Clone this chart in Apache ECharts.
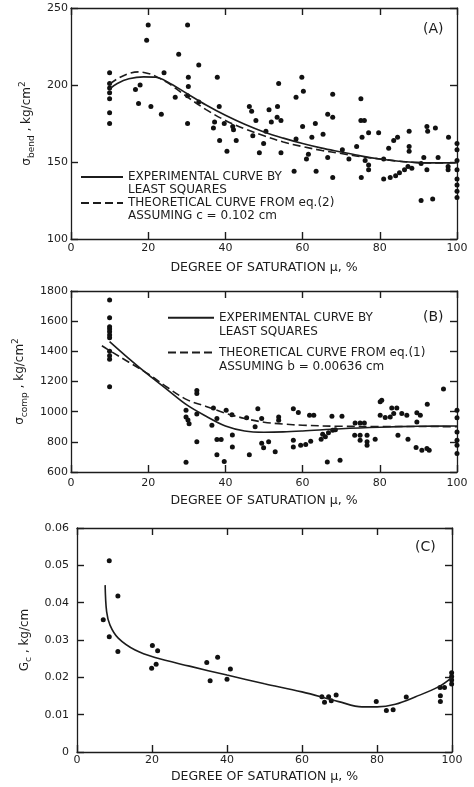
<!DOCTYPE html>
<html><head><meta charset="utf-8">
<script src="https://cdn.jsdelivr.net/npm/echarts@6/dist/echarts.min.js"></script>
<style>html,body{margin:0;padding:0;background:#fff}#c{width:474px;height:787px}</style>
</head><body><div id="c"></div>
<script>
// ---------- DATA ----------
const satRange = [0, 100, 20];          // degree of saturation axis: min, max, interval
const bendRange = [100, 250, 50];
const compRange = [600, 1800, 200];
const gcRange = [0, 0.06, 0.01];

const xAxisTitle = 'DEGREE OF SATURATION \u03bc, %';
const panelTags = ['(A)', '(B)', '(C)'];
const legendA = ['EXPERIMENTAL CURVE BY\nLEAST SQUARES', 'THEORETICAL CURVE FROM eq.(2)\nASSUMING c = 0.102 cm'];
const legendB = ['EXPERIMENTAL CURVE BY\nLEAST SQUARES', 'THEORETICAL CURVE FROM eq.(1)\nASSUMING b = 0.00636 cm'];

// Panel A: bending strength (kg/cm2)
const bendPoints = [
  [10,208],[10,201],[10,198],[10,195],[10,191],[10,182],[10,175],
  [16.7,197],[17.9,200],[17.5,188],[20,239],[19.6,229],[20.7,186],[23.4,181],[24.1,208],
  [27,192],[27.9,220],[30.2,239],[30.4,205],[30.4,199],[30.2,193],[30.2,175],[33.1,213],[33.1,189],
  [37.9,205],[37.2,176],[36.9,172],[38.4,186],[38.5,164],[39.7,175],[40.4,157],[41.9,173],[42.1,171],[42.8,164],
  [46.2,186],[46.8,183],[47.9,177],[47.1,167],[49.9,162],[48.8,156],[51.3,184],[51.9,176],[50.5,170],
  [53.8,201],[53.5,186],[53.4,179],[54.4,177],[54.4,156],[57.8,144],[58.3,192],[58.3,165],
  [59.8,205],[60.2,196],[60,173],[61,152],[61.5,155],[62.4,166],[63.3,175],[63.5,144],[65.3,168],
  [66.5,181],[67.8,179],[67.8,194],[66.5,153],[67.8,140],[70.3,158],[72,152],[74,160],
  [75.1,191],[75.1,177],[76,177],[75.4,166],[75.2,140],[76.2,151],[77.1,148],[77.1,145],[77.1,169],[79.7,169],
  [81,139],[81,152],[82.3,159],[82.7,140],[83.6,164],[84.6,166],[84.1,141],[85.1,143],[86.4,145],[87.3,147],[87.6,157],[87.6,160],[87.6,170],[88.3,146],
  [90.7,149],[90.7,125],[91.4,153],[92.2,173],[92.4,170],[92.2,145],[93.7,126],[94.4,172],[95.1,153],[97.8,166],[97.7,147],[97.7,145],
  [100,162],[100,158],[100,151],[100,145],[100,139],[100,135],[100,131],[100,127]
];
const bendExpCurve = [
  [10,197.5],[12,201],[15,204],[18.8,205.3],[22,205],[25,202],[30,194.5],[35,187],[40,180.3],[45,174.5],
  [50,169.5],[55,165.5],[60,162],[65,159],[70,156.5],[75,154],[80,152],[85,150.5],[90,149.6],[95,149.4],[100,149.5]
];
const bendTheoryCurve = [
  [10,200.5],[12,204],[15,207.5],[17.5,208.5],[20,207.5],[22,205.6],[25,201.5],[30,192.5],[35,184],[40,177],
  [45,171.5],[50,167],[55,163],[60,160],[65,157.5],[70,155.5],[75,153.5],[80,152],[85,150.5],[90,149.6],[95,149.4],[100,149.5]
];

// Panel B: compressive strength (kg/cm2)
const compPoints = [
  [10,1740],[10,1623],[10,1563],[10,1548],[10,1530],[10,1508],[10,1490],[10,1400],[10,1370],[10,1348],[10,1165],
  [29.8,1010],[29.8,965],[30.3,945],[30.6,920],[29.8,665],[32.6,1140],[32.6,1120],[32.6,985],[32.6,800],
  [36.9,1025],[36.5,910],[37.8,955],[37.8,815],[38.9,815],[37.8,715],[39.7,670],[40.2,1010],[41.7,980],[41.8,845],[41.8,765],
  [45.5,960],[46.2,715],[47.7,900],[48.4,1020],[49.4,955],[49.4,790],[49.9,760],[51.2,800],[52.9,735],[53.8,965],[53.8,943],
  [57.6,1020],[58.9,995],[57.6,810],[57.6,765],[59.5,777],[60.8,782],[62.1,804],[61.8,977],[62.9,977],
  [64.8,817],[65.9,833],[65.2,850],[66.7,860],[67.6,970],[70.2,970],[66.4,667],[69.7,678],[67.8,877],[68.5,880],
  [73.6,925],[74.9,925],[76,925],[73.5,844],[74.9,844],[74.9,811],[76.7,844],[76.7,800],[76.7,777],[78.8,817],
  [80.1,1065],[80.5,1076],[83.1,1025],[84.4,1025],[80.1,977],[81.4,961],[82.7,965],[83.6,988],[85.7,988],[87,977],
  [89.6,992],[90.5,977],[92.3,1050],[89.6,932],[84.7,844],[87.3,817],
  [89.4,762],[90.9,744],[92.2,755],[92.8,744],[96.5,1150],
  [100,1010],[100,960],[100,866],[100,811],[100,777],[100,722]
];
const compExpCurve = [
  [10,1465],[15,1352],[20,1245],[25,1145],[30,1045],[35,970],[40,905],[45,872],[50,864],[55,866],
  [60,872],[70,887],[80,897],[90,903],[100,905]
];
const compTheoryCurve = [
  [8,1437],[10,1405],[15,1328],[20,1250],[25,1160],[30,1080],[35,1035],[40,990],[45,955],[50,930],
  [55,918],[60,910],[70,903],[80,902],[90,902],[100,900]
];

// Panel C: Gc (kg/cm)
const gcPoints = [
  [7.0,0.0354],[8.6,0.0512],[8.6,0.0309],[10.9,0.0418],[10.9,0.0269],
  [20.1,0.0285],[21.5,0.0271],[19.9,0.0224],[21.1,0.0235],
  [34.6,0.0240],[37.5,0.0254],[35.5,0.0191],[40,0.0195],[40.9,0.0222],
  [65.3,0.0148],[66,0.0133],[67.1,0.0148],[67.8,0.0137],[69.1,0.0153],
  [79.8,0.0135],[82.5,0.0111],[84.3,0.0113],[87.8,0.0147],
  [96.9,0.0151],[96.9,0.0135],[96.8,0.0173],[98,0.0173],
  [99.9,0.0212],[99.9,0.0202],[99.9,0.0193],[99.9,0.0182]
];
const gcCurve = [
  [7.5,0.0447],[7.9,0.0376],[8.8,0.034],[11,0.0305],[15.5,0.0273],[20.8,0.0253],[30,0.023],[40,0.0206],
  [50,0.0183],[60,0.0161],[69.8,0.0135],[76,0.0121],[80,0.0121],[84.9,0.0128],[90.3,0.0148],[96.5,0.0175],[100,0.020]
];

// ---------- STYLE ----------
const INK = '#1c1c1c';
const FONT = 'DejaVu Sans';

function xPair(gi, nameGap, labelMargin) {
  const base = {
    type: 'value', gridIndex: gi, min: satRange[0], max: satRange[1], interval: satRange[2],
    axisLine: { onZero: false, lineStyle: { color: INK, width: 1.3 } },
    axisTick: { show: true, inside: true, length: 7, lineStyle: { color: INK, width: 1.4 } },
    splitLine: { show: false }
  };
  return [
    Object.assign({}, base, {
      position: 'bottom',
      axisLabel: { color: INK, fontFamily: FONT, fontSize: 11, margin: labelMargin, formatter: v => String(v) },
      name: xAxisTitle, nameLocation: 'middle', nameGap: nameGap,
      nameTextStyle: { color: INK, fontFamily: FONT, fontSize: 12.5 }
    }),
    Object.assign({}, base, { position: 'top', axisLabel: { show: false } })
  ];
}
const richName = {
  m: { fontFamily: FONT, fontSize: 12, color: INK, lineHeight: 18 },
  sub: { fontFamily: FONT, fontSize: 9, color: INK, verticalAlign: 'bottom', lineHeight: 12 },
  sup: { fontFamily: FONT, fontSize: 9, color: INK, verticalAlign: 'top', lineHeight: 12 }
};
function yPair(gi, range, name, nameGap, labelMargin, fmt) {
  const base = {
    type: 'value', gridIndex: gi, min: range[0], max: range[1], interval: range[2],
    axisLine: { onZero: false, lineStyle: { color: INK, width: 1.3 } },
    axisTick: { show: true, inside: true, length: 7, lineStyle: { color: INK, width: 1.4 } },
    splitLine: { show: false }
  };
  return [
    Object.assign({}, base, {
      position: 'left',
      axisLabel: { color: INK, fontFamily: FONT, fontSize: 11, margin: labelMargin, formatter: fmt },
      name: name, nameLocation: 'middle', nameGap: nameGap,
      nameTextStyle: { rich: richName }
    }),
    Object.assign({}, base, { position: 'right', axisLabel: { show: false } })
  ];
}
const intFmt = v => String(Math.round(v));
const decFmt = v => (Math.abs(v) < 1e-9 ? '0' : v.toFixed(2));

function pts(data, p) {
  return { type: 'scatter', xAxisIndex: 2 * p, yAxisIndex: 2 * p, data: data,
    symbol: 'circle', symbolSize: 5, itemStyle: { color: '#111', opacity: 1 }, silent: true, z: 3 };
}
function curve(name, data, p, dashed) {
  return { type: 'line', name: name, xAxisIndex: 2 * p, yAxisIndex: 2 * p, data: data,
    smooth: 0.35, symbol: 'none', silent: true, z: 4,
    lineStyle: { color: INK, width: 1.6, type: dashed ? [8, 4] : 'solid' },
    itemStyle: { color: INK } };
}
function legend(names, left, top, lh, gap, iw) {
  return { orient: 'vertical', left: left, top: top, padding: 0, itemGap: gap,
    itemWidth: iw, itemHeight: 10, selectedMode: false, data: names,
    itemStyle: { opacity: 0, borderWidth: 0 },
    lineStyle: { opacity: 1 },
    formatter: n => '\n' + n,
    textStyle: { color: INK, fontFamily: FONT, fontSize: 12, lineHeight: lh } };
}
function tag(text, left, top) {
  return { text: text, left: left, top: top, padding: 0,
    textStyle: { color: INK, fontFamily: FONT, fontSize: 14, fontWeight: 'normal' } };
}

const option = {
  backgroundColor: '#fff',
  animation: false,
  title: [tag(panelTags[0], 423, 22), tag(panelTags[1], 423, 310), tag(panelTags[2], 415, 540)],
  legend: [
    legend(legendA, 80, 157.5, 13, -13, 42),
    legend(legendB, 167, 296, 14.5, -8.8, 46)
  ],
  grid: [
    { left: 71, top: 8, width: 386, height: 231, outerBoundsMode: 'none' },
    { left: 71, top: 291, width: 386, height: 181, outerBoundsMode: 'none' },
    { left: 77, top: 528, width: 375, height: 224, outerBoundsMode: 'none' }
  ],
  xAxis: [].concat(xPair(0, 22, 4), xPair(1, 22, 6), xPair(2, 18, 3)),
  yAxis: [].concat(
    yPair(0, bendRange, '{m|\u03c3}{sub|bend}{m| , kg/cm}{sup|2}', 28, 3, intFmt),
    yPair(1, compRange, '{m|\u03c3}{sub|comp}{m| , kg/cm}{sup|2}', 36, 3, intFmt),
    yPair(2, gcRange, '{m|G}{sub|c}{m| , kg/cm}', 42, 8, decFmt)
  ),
  series: [
    pts(bendPoints, 0),
    curve(legendA[0], bendExpCurve, 0, false),
    curve(legendA[1], bendTheoryCurve, 0, true),
    pts(compPoints, 1),
    curve(legendB[0], compExpCurve, 1, false),
    curve(legendB[1], compTheoryCurve, 1, true),
    pts(gcPoints, 2),
    curve('Gc', gcCurve, 2, false)
  ]
};
const chart = echarts.init(document.getElementById('c'), null, { renderer: 'canvas' });
chart.setOption(option);
</script></body></html>
